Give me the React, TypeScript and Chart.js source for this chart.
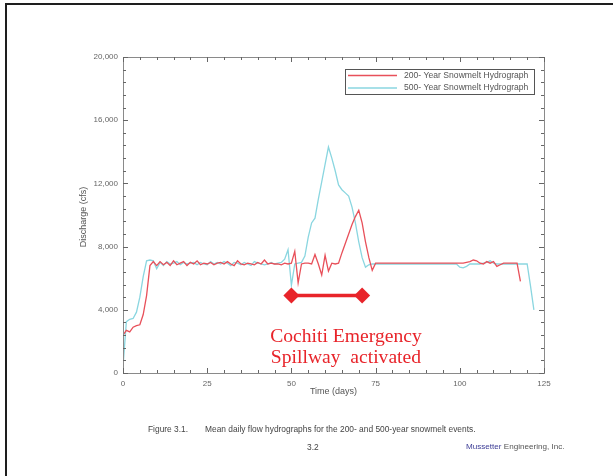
import React, { useEffect, useRef } from "react";
import { Chart, registerables } from "chart.js";

Chart.register(...registerables);

// Daily discharge (cfs), index = day
const flow200: number[] = [
  2400, 2700, 2600, 2900, 3000, 3050, 3700, 4900, 6800, 7050,
  6800, 7050, 6850, 7000, 6800, 7100, 6850, 6950, 7050, 6800,
  7000, 6900, 7100, 6850, 6950, 6900, 7000, 6850, 6950, 7000,
  6900, 7050, 6900, 6800, 7100, 6900, 6850, 6950, 6900, 6850,
  7000, 6900, 7150, 6900, 6950, 6900, 6900, 6850, 6950, 6900,
  6950, 7700, 5700, 6900, 6950, 6950, 6900, 7500, 6900, 6200,
  7450, 6450, 6950, 6900, 6950, 7600, 8200, 8800, 9400, 9900,
  10300, 9500, 8300, 7300, 6500, 6950, 6950, 6950, 6950, 6950,
  6950, 6950, 6950, 6950, 6950, 6950, 6950, 6950, 6950, 6950,
  6950, 6950, 6950, 6950, 6950, 6950, 6950, 6950, 6950, 6950,
  6950, 6950, 7000, 7050, 7150, 7100, 6950, 6900, 7050, 6950,
  7050, 6750, 6850, 6950, 6950, 6950, 6950, 6950, 5800,
];

const flow500: number[] = [
  400, 3250, 3400, 3450, 3850, 4800, 6100, 7100, 7150, 7100,
  6600, 7000, 6800, 7050, 6900, 6950, 7050, 6850, 7000, 6900,
  6950, 7000, 6850, 7000, 6900, 6850, 7050, 6900, 7000, 6900,
  7050, 6950, 6800, 7000, 6950, 6850, 7000, 6900, 6800, 7050,
  6950, 6900, 6850, 6900, 7000, 6900, 6950, 7000, 7200, 7800,
  5550, 6900, 6950, 7000, 7400, 8600, 9500, 9800, 11000, 12100,
  13200, 14300, 13600, 12800, 11900, 11600, 11400, 11200, 10500, 9500,
  8300, 7300, 6700, 6850, 6900, 6900, 6900, 6900, 6900, 6900,
  6900, 6900, 6900, 6900, 6900, 6900, 6900, 6900, 6900, 6900,
  6900, 6900, 6900, 6900, 6900, 6900, 6900, 6900, 6900, 6900,
  6700, 6650, 6750, 6900, 6900, 6900, 6900, 6950, 7000, 7100,
  6950, 6900, 6900, 6900, 6900, 6900, 6900, 6900, 6900, 6900,
  6900, 5500, 4000,
];

// Emergency spillway activation window (days) and marker level (cfs)
const spillDays: number[] = [50, 71];
const spillLevel = 4900;

const xTicks: number[] = [0, 25, 50, 75, 100, 125];
const yTicks: number[] = [0, 4000, 8000, 12000, 16000, 20000];

const seriesLabels: string[] = [
  "200- Year Snowmelt Hydrograph",
  "500- Year Snowmelt Hydrograph",
];
const annotationLines: string[] = ["Cochiti Emergency", "Spillway  activated"];

const RED = "#e8505a";
const CYAN = "#8ad6e0";
const MARK = "#e8242a";
const SANS = "Arial, 'Liberation Sans', sans-serif";

export default function App() {
  const ref = useRef<HTMLCanvasElement | null>(null);

  useEffect(() => {
    const canvas = ref.current;
    if (!canvas) return;

    const decor = {
      id: "decor",
      beforeDraw(chart: any) {
        const c = chart.ctx;
        c.save();
        c.fillStyle = "#ffffff";
        c.fillRect(0, 0, chart.width, chart.height);
        c.restore();
      },
      afterDraw(chart: any) {
        const c = chart.ctx;
        const xs = chart.scales.x;
        const ys = chart.scales.y;
        const a = chart.chartArea;
        c.save();

        // frame
        c.strokeStyle = "#8a8a8a";
        c.lineWidth = 1;
        c.strokeRect(Math.round(a.left) + 0.5, Math.round(a.top) + 0.5, Math.round(a.right - a.left), Math.round(a.bottom - a.top));

        // ticks (inward)
        c.strokeStyle = "#666";
        c.beginPath();
        for (let d = 0; d <= 125; d += 5) {
          const px = Math.round(xs.getPixelForValue(d)) + 0.5;
          const len = d % 25 === 0 ? 5 : 3;
          c.moveTo(px, a.bottom);
          c.lineTo(px, a.bottom - len);
          c.moveTo(px, a.top);
          c.lineTo(px, a.top + len);
        }
        for (let v = 0; v <= 20000; v += 800) {
          const py = Math.round(ys.getPixelForValue(v)) + 0.5;
          const len = v % 4000 === 0 ? 5 : 3;
          c.moveTo(a.left, py);
          c.lineTo(a.left + len, py);
          c.moveTo(a.right, py);
          c.lineTo(a.right - len, py);
        }
        c.stroke();

        // axis titles
        c.fillStyle = "#555";
        c.font = `9px ${SANS}`;
        c.textAlign = "center";
        c.textBaseline = "middle";
        c.fillText("Time (days)", (a.left + a.right) / 2, 392);
        c.save();
        c.translate(84, 217);
        c.rotate(-Math.PI / 2);
        c.fillText("Discharge (cfs)", 0, 0);
        c.restore();

        // legend
        const lx = 345, ly = 69, lw = 189, lh = 25;
        c.fillStyle = "#fff";
        c.fillRect(lx, ly, lw, lh);
        c.strokeStyle = "#555";
        c.lineWidth = 1;
        c.strokeRect(lx + 0.5, ly + 0.5, lw, lh);
        const cols = [RED, CYAN];
        c.font = `8.6px ${SANS}`;
        seriesLabels.forEach((t, i) => {
          const yy = ly + 6.5 + i * 12.5;
          c.strokeStyle = cols[i];
          c.lineWidth = 1.4;
          c.beginPath();
          c.moveTo(lx + 3, yy);
          c.lineTo(lx + 52, yy);
          c.stroke();
          c.fillStyle = "#555";
          c.textAlign = "left";
          c.fillText(t, lx + 59, yy);
        });

        // annotation text
        c.fillStyle = MARK;
        c.font = "19.6px 'Liberation Serif', 'DejaVu Serif', serif";
        c.textAlign = "center";
        c.textBaseline = "middle";
        const cx = xs.getPixelForValue(66.2);
        c.fillText(annotationLines[0], cx, 337);
        c.fillText(annotationLines[1], cx, 358);

        // caption
        c.fillStyle = "#444";
        c.font = `8.4px ${SANS}`;
        c.textAlign = "left";
        c.fillText("Figure 3.1.", 148, 430);
        c.fillText("Mean daily flow hydrographs for the 200- and 500-year snowmelt events.", 205, 430);
        c.fillText("3.2", 307, 448);
        c.font = `8.1px ${SANS}`;
        c.fillStyle = "#3d3d96";
        c.fillText("Mussetter", 466, 447);
        const mw = c.measureText("Mussetter ").width;
        c.fillStyle = "#555";
        c.fillText("Engineering, Inc.", 466 + mw, 447);

        // page border
        c.fillStyle = "#1e1e1e";
        c.fillRect(5, 3, chart.width - 5, 2);
        c.fillRect(5, 3, 2, chart.height - 3);

        c.restore();
      },
    };

    const chart = new Chart(canvas, {
      type: "line",
      data: {
        datasets: [
          {
            label: seriesLabels[0],
            data: flow200.map((v, i) => ({ x: i, y: v })),
            borderColor: RED,
            borderWidth: 1.3,
            pointRadius: 0,
            tension: 0,
            order: 1,
          },
          {
            label: seriesLabels[1],
            data: flow500.map((v, i) => ({ x: i, y: v })),
            borderColor: CYAN,
            borderWidth: 1.3,
            pointRadius: 0,
            tension: 0,
            order: 2,
          },
          {
            label: "spill",
            data: spillDays.map((d) => ({ x: d, y: spillLevel })),
            borderColor: MARK,
            backgroundColor: MARK,
            borderWidth: 3.5,
            pointStyle: "rectRot",
            pointRadius: 8,
            pointBorderWidth: 0,
            order: 0,
          },
        ],
      },
      options: {
        responsive: false,
        animation: false,
        events: [],
        layout: { padding: { left: 0, top: 57, right: 69, bottom: 0 } },
        plugins: { legend: { display: false }, tooltip: { enabled: false } },
        scales: {
          x: {
            type: "linear",
            min: 0,
            max: 125,
            afterFit: (s: any) => {
              s.height = 103;
            },
            afterBuildTicks: (s: any) => {
              s.ticks = xTicks.map((v) => ({ value: v }));
            },
            grid: { display: false, drawTicks: false },
            border: { display: false },
            ticks: {
              padding: 6,
              color: "#666",
              font: { family: SANS, size: 8 },
            },
          },
          y: {
            type: "linear",
            min: 0,
            max: 20000,
            afterFit: (s: any) => {
              s.width = 123;
            },
            afterBuildTicks: (s: any) => {
              s.ticks = yTicks.map((v) => ({ value: v }));
            },
            grid: { display: false, drawTicks: false },
            border: { display: false },
            ticks: {
              padding: 5,
              color: "#666",
              font: { family: SANS, size: 8 },
              callback: (v: any) => Number(v).toLocaleString("en-US"),
            },
          },
        },
      },
      plugins: [decor],
    });

    return () => chart.destroy();
  }, []);

  return (
    <div style={{ position: "absolute", left: 0, top: 0, width: 613, height: 476 }}>
      <canvas ref={ref} width={613} height={476} style={{ width: 613, height: 476, display: "block" }} />
    </div>
  );
}
